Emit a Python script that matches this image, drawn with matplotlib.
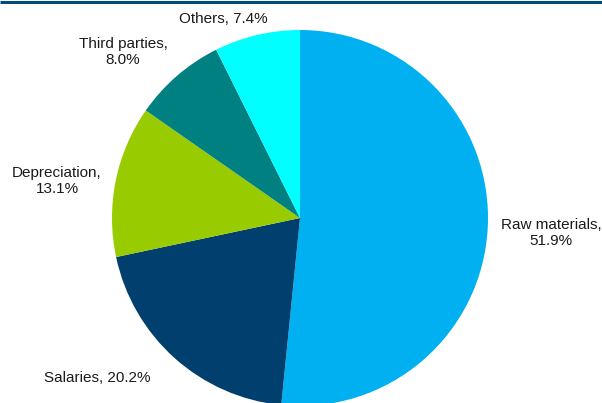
import matplotlib.pyplot as plt

plt.rcParams['font.family'] = ['Liberation Sans', 'DejaVu Sans']

# cost breakdown
categories = ['Raw materials', 'Salaries', 'Depreciation', 'Third parties', 'Others']
shares = [51.9, 20.2, 13.1, 8.0, 7.4]
colors = ['#00B0F0', '#003F6E', '#99CC00', '#008080', '#00FFFF']
label_text = ['Raw materials,\n51.9%', 'Salaries, 20.2%', 'Depreciation,\n13.1%',
              'Third parties,\n8.0%', 'Others, 7.4%']

W, H = 602, 403
fig = plt.figure(figsize=(W / 100, H / 100), dpi=100)
ax = fig.add_axes([0, 0, 1, 1])

cx, cy, r = 300, H - 218, 188
ax.pie(shares, colors=colors, startangle=90, counterclock=False,
       center=(cx, cy), radius=r, frame=True, wedgeprops=dict(linewidth=0))
ax.set_xlim(0, W)
ax.set_ylim(0, H)
ax.axis('off')

# label centres, measured from the top-left corner
label_xy = [(551, 233), (97, 378), (57, 181), (123, 52), (223, 19)]
for txt, (x, y) in zip(label_text, label_xy):
    ax.text(x, H - y, txt, ha='center', va='center', fontsize=11,
            color='#1a1a1a', linespacing=1.15)

# rule across the top
ax.plot([0, W], [H - 1.5, H - 1.5], color='#004A80', lw=2.2,
        solid_capstyle='butt', clip_on=False)

fig.savefig('out.png', dpi=100)
